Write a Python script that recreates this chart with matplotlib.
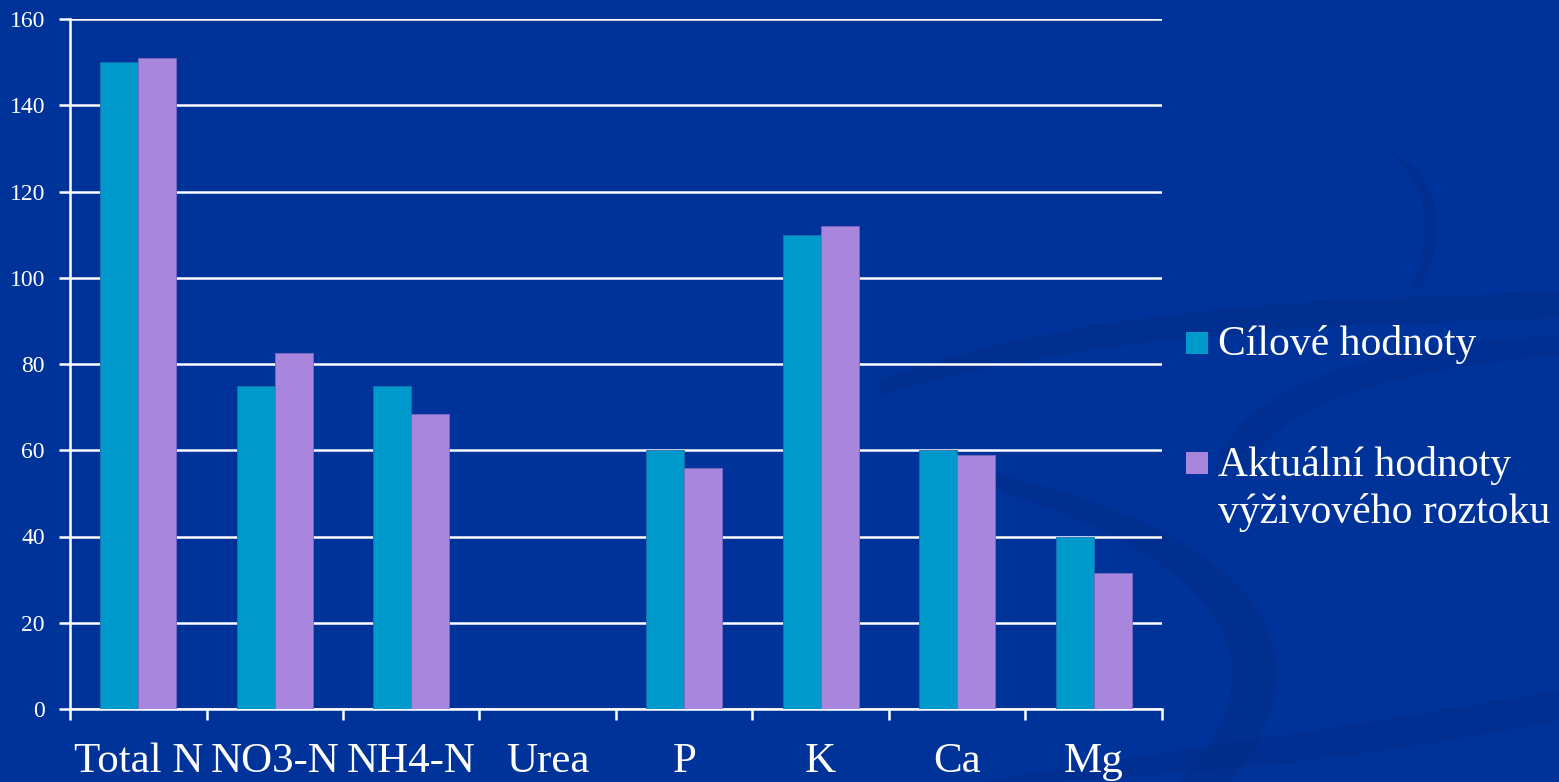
import matplotlib
matplotlib.use("Agg")
import matplotlib.pyplot as plt
from matplotlib.patches import Rectangle, PathPatch
from matplotlib.path import Path
from matplotlib.transforms import Affine2D
import numpy as np

categories = ["Total N", "NO3-N", "NH4-N", "Urea", "P", "K", "Ca", "Mg"]
target_values = [150, 75, 75, 0, 60, 110, 60, 40]
actual_values = [151, 82.5, 68.5, 0, 56, 112, 59, 31.5]
series_names = ["Cílové hodnoty", "Aktuální hodnoty\nvýživového roztoku"]
y_ticks = [0, 20, 40, 60, 80, 100, 120, 140, 160]

bg = "#003399"
c_target = "#0099CC"
c_actual = "#A886DD"
serif = ["Liberation Serif", "DejaVu Serif"]

W, H = 1559, 782
fig = plt.figure(figsize=(W / 100, H / 100), dpi=100, facecolor=bg)

# pixel coordinates measured from the top-left corner of the slide
px = Affine2D().scale(1.0 / W, -1.0 / H).translate(0, 1) + fig.transFigure


def band(upper, lower, alpha=0.45):
    """Closed ribbon: cubic Bezier along the upper edge, back along the lower edge."""
    verts = list(upper) + list(lower[::-1]) + [upper[0]]
    codes = ([Path.MOVETO] + [Path.CURVE4] * 3 + [Path.LINETO] + [Path.CURVE4] * 3
             + [Path.CLOSEPOLY])
    fig.patches.append(PathPatch(Path(verts, codes), transform=px, facecolor="#00287f",
                                 edgecolor="none", alpha=alpha, zorder=0))


# faint decorative swooshes in the slide background
band([(880, 380), (1100, 300), (1350, 300), (1559, 292)],
     [(880, 395), (1100, 330), (1350, 325), (1559, 318)], 0.35)
band([(1559, 335), (1380, 345), (1240, 380), (1215, 470)],
     [(1559, 355), (1400, 370), (1275, 400), (1250, 470)], 0.3)
band([(980, 470), (1200, 520), (1360, 620), (1230, 782)],
     [(980, 485), (1180, 545), (1310, 640), (1180, 782)], 0.35)
band([(980, 782), (1200, 745), (1400, 720), (1559, 690)],
     [(1060, 782), (1250, 770), (1420, 750), (1559, 720)], 0.3)
band([(1385, 150), (1440, 170), (1450, 230), (1420, 290)],
     [(1385, 150), (1430, 180), (1435, 235), (1410, 290)], 0.3)

ax = fig.add_axes([70 / W, 1 - 709 / H, 1092 / W, 690 / H])
ax.set_facecolor("none")
ax.set_zorder(2)

x = np.arange(len(categories))
w = 0.28
ax.bar(x - w / 2, target_values, width=w, color=c_target, edgecolor="#1a6fb0",
       linewidth=0.6, zorder=3)
ax.bar(x + w / 2, actual_values, width=w, color=c_actual, edgecolor="#7a6ac0",
       linewidth=0.6, zorder=3)

ax.set_xlim(-0.5, len(categories) - 0.5)
ax.set_ylim(0, 160)
ax.set_yticks(y_ticks)
ax.set_yticklabels([str(v) for v in y_ticks], fontfamily=serif, fontsize=17, color="white")
ax.yaxis.grid(True, color="white", linewidth=1.8, zorder=1)
ax.set_axisbelow(True)

ax.set_xticks(np.arange(len(categories) + 1) - 0.5)
ax.set_xticklabels([])
ax.set_xticks(x, minor=True)
ax.set_xticklabels(categories, minor=True, fontfamily=serif, fontsize=31, color="white")
ax.tick_params(axis="x", which="major", length=8, width=1.8, color="white", direction="out")
ax.tick_params(axis="x", which="minor", length=0, pad=24)
ax.tick_params(axis="y", length=8, width=1.8, color="white", direction="out", pad=10)

for s in ["top", "right"]:
    ax.spines[s].set_visible(False)
for s in ["left", "bottom"]:
    ax.spines[s].set_color("white")
    ax.spines[s].set_linewidth(1.8)

# legend: colour square beside the first line, extra lines stacked below
colors = [c_target, c_actual]
square_tops = [332, 452]
baselines = [355, 476]
line_step = 47
for name, col, top, base in zip(series_names, colors, square_tops, baselines):
    fig.patches.append(Rectangle((1186, top + 22), 22, -22, transform=px,
                                 facecolor=col, edgecolor="none", zorder=3))
    for i, line in enumerate(name.split("\n")):
        fig.text(1218 / W, 1 - (base + i * line_step) / H, line, fontfamily=serif,
                 fontsize=30, color="white", va="baseline", ha="left")

fig.savefig("out.png", dpi=100, facecolor=bg)
